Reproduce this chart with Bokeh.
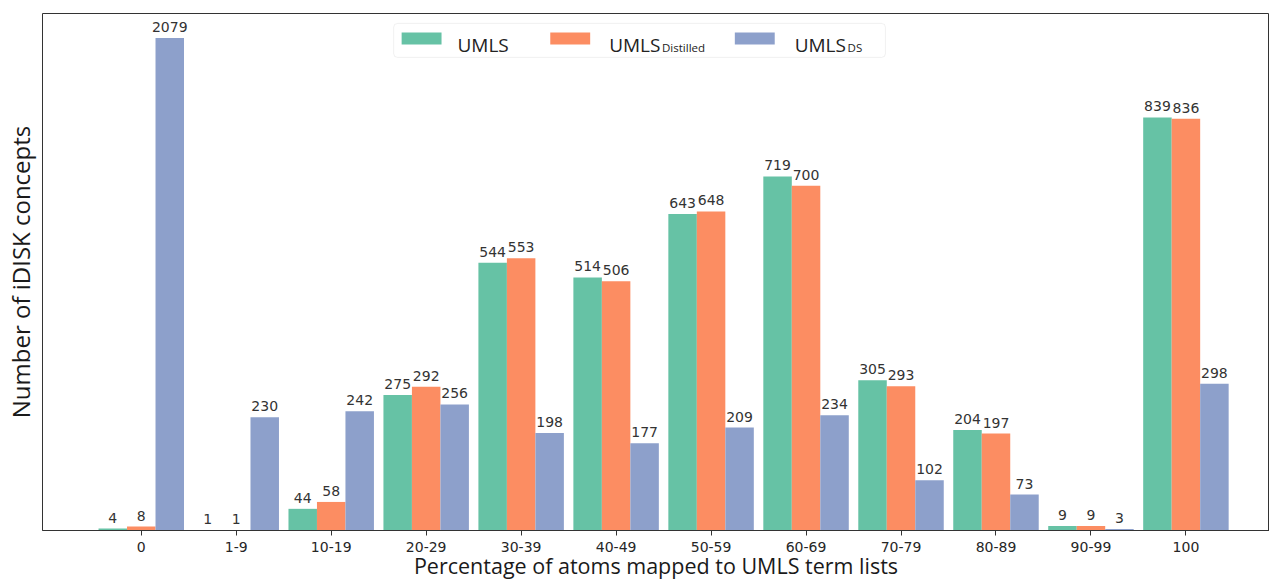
import numpy as np
from bokeh.plotting import figure
from bokeh.models import Range1d, FixedTicker, Label, BoxAnnotation, ColumnDataSource
from bokeh.core.properties import value
from bokeh.embed import file_html
from bokeh.resources import INLINE

# ---------------- data ----------------
categories = ["0", "1-9", "10-19", "20-29", "30-39", "40-49",
              "50-59", "60-69", "70-79", "80-89", "90-99", "100"]
umls = [4, 1, 44, 275, 544, 514, 643, 719, 305, 204, 9, 839]
umls_distilled = [8, 1, 58, 292, 553, 506, 648, 700, 293, 197, 9, 836]
umls_ds = [2079, 230, 242, 256, 198, 177, 209, 234, 102, 73, 3, 298]
series_main = ["UMLS", "UMLS", "UMLS"]
series_sub = ["", "Distilled", "DS"]
colors = ["#66c2a5", "#fc8d62", "#8da0cb"]

# ---------------- layout ----------------
Y_CAP = 1000          # tallest bar is clipped at this height in the original
Y_END = 1050
X_START, X_END = -1.04, 11.88
W, H = 1269, 583
BL, BR, BT, BB = 39, 0, 13, 53

p = figure(width=W, height=H, output_backend="svg", toolbar_location=None, title=None,
           x_range=Range1d(X_START, X_END), y_range=Range1d(0, Y_END),
           min_border_left=BL, min_border_right=BR, min_border_top=BT, min_border_bottom=BB)
p.background_fill_color = "white"
p.border_fill_color = "white"
p.outline_line_color = "#333333"
p.outline_line_width = 1
p.xgrid.visible = False
p.ygrid.visible = False

offsets = [-0.3, 0.0, 0.3]
xs = np.arange(len(categories))
for k, (vals, col) in enumerate(zip([umls, umls_distilled, umls_ds], colors)):
    vals = np.array(vals)
    disp = np.minimum(vals, Y_CAP)
    src = ColumnDataSource(dict(x=xs + offsets[k], top=disp, label=[str(v) for v in vals]))
    p.vbar(x="x", top="top", width=0.3, fill_color=col, line_color=None, source=src)
    p.text(x="x", y="top", text="label", source=src, text_align="center",
           text_baseline="bottom", y_offset=-6, text_font=value("DejaVu Sans"),
           text_font_size="14px", text_color="#333333")

# x axis
p.xaxis.ticker = FixedTicker(ticks=list(range(len(categories))))
p.xaxis.major_label_overrides = {i: c for i, c in enumerate(categories)}
p.xaxis.axis_label = "Percentage of atoms mapped to UMLS term lists"
p.xaxis.axis_label_text_font = "Open Sans"
p.xaxis.axis_label_text_font_size = "21.5px"
p.xaxis.axis_label_text_font_style = "normal"
p.xaxis.axis_label_text_color = "#1a1a1a"
p.xaxis.axis_label_standoff = -4
p.xaxis.major_label_text_font = "DejaVu Sans"
p.xaxis.major_label_text_font_size = "14px"
p.xaxis.major_label_text_color = "#262626"
p.xaxis.major_label_standoff = 6
p.xaxis.major_tick_out = 5
p.xaxis.major_tick_in = 0
p.xaxis.major_tick_line_color = "#333333"
p.xaxis.minor_tick_line_color = None
p.xaxis.axis_line_color = "#333333"

# y axis (no ticks, label only)
p.yaxis.ticker = FixedTicker(ticks=[])
p.yaxis.axis_label = "Number of iDISK concepts"
p.yaxis.axis_label_text_font = "Open Sans"
p.yaxis.axis_label_text_font_size = "24px"
p.yaxis.axis_label_text_font_style = "normal"
p.yaxis.axis_label_text_color = "#1a1a1a"
p.yaxis.axis_label_standoff = 6
p.yaxis.major_label_standoff = 0
p.yaxis.major_tick_out = 0
p.yaxis.major_tick_in = 0
p.yaxis.minor_tick_line_color = None
p.yaxis.major_tick_line_color = None
p.yaxis.axis_line_color = None

# ---------------- legend (drawn manually for subscripts) ----------------
# mapping from picture pixels to data units (category spacing ~95.2 px, 0.4923 px per count)
def dx(px):
    return (px - 142) / 95.2


def dy(py):
    return (530 - py) / 0.4923


p.add_layout(BoxAnnotation(left=dx(395), right=dx(888), top=dy(23), bottom=dy(57),
                           fill_color="white", fill_alpha=0.85, line_color="#d0d0d0",
                           line_width=1, border_radius=4))
swatch_left = [403, 552, 737]
text_left = [459, 611, 797]
for k in range(3):
    p.add_layout(BoxAnnotation(left=dx(swatch_left[k]), right=dx(swatch_left[k] + 40),
                               top=dy(32), bottom=dy(44), fill_color=colors[k],
                               fill_alpha=1.0, line_color=None))
    p.add_layout(Label(x=dx(text_left[k]), y=dy(45), text=series_main[k],
                       text_font="Open Sans", text_font_size="19px",
                       text_baseline="alphabetic", text_color="#222222"))
    if series_sub[k]:
        p.add_layout(Label(x=dx(text_left[k] + 53), y=dy(47.5), text=series_sub[k],
                           text_font="Open Sans", text_font_size="11.5px",
                           text_baseline="alphabetic", text_color="#222222"))

open("out.html", "w").write(file_html(p, INLINE))
